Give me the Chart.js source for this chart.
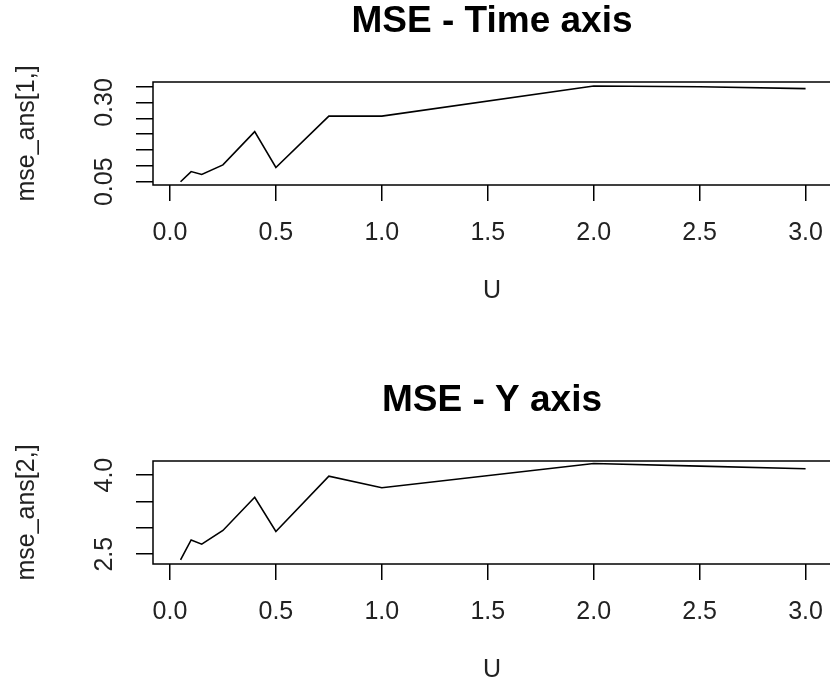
<!DOCTYPE html>
<html>
<head>
<meta charset="utf-8">
<script src="https://cdn.jsdelivr.net/npm/chart.js@4/dist/chart.umd.min.js"></script>
<style>
  html, body { margin: 0; padding: 0; background: #fff; }
  body { width: 830px; height: 682px; overflow: hidden; position: relative; }
  canvas { position: absolute; left: 0; }
  #c1 { top: 0; }
  #c2 { top: 379px; }
</style>
</head>
<body>
<canvas id="c1" width="860" height="306"></canvas>
<canvas id="c2" width="860" height="306"></canvas>
<script>
// values
const uValues = [0.05, 0.1, 0.15, 0.25, 0.4, 0.5, 0.75, 1.0, 2.0, 2.5, 3.0];
const mseTime = [0.050, 0.082, 0.073, 0.103, 0.208, 0.095, 0.257, 0.257, 0.352, 0.350, 0.344];
const mseY = [2.39, 2.77, 2.69, 2.95, 3.58, 2.93, 3.98, 3.76, 4.22, 4.17, 4.12];

const xTicks = [0, 0.5, 1, 1.5, 2, 2.5, 3];
const yTicksTime = [0.05, 0.10, 0.15, 0.20, 0.25, 0.30, 0.35];
const yLabelsTime = [0.05, 0.30];
const yTicksY = [2.5, 3.0, 3.5, 4.0];
const yLabelsY = [2.5, 4.0];

const FONT = "'Liberation Sans', Arial, sans-serif";

// R-style box around the plot region + rotated y tick labels
const rPlot = {
    id: 'rPlot',
    afterDraw(chart, args, opts) {
        const {ctx, chartArea: a} = chart;
        const y = chart.scales.y;
        ctx.save();
        ctx.strokeStyle = '#000';
        ctx.lineWidth = 1.5;
        ctx.strokeRect(a.left, a.top, a.right - a.left, a.bottom - a.top);
        ctx.fillStyle = '#222';
        ctx.font = '25px ' + FONT;
        ctx.textAlign = 'center';
        ctx.textBaseline = 'alphabetic';
        opts.labels.forEach(v => {
            ctx.save();
            ctx.translate(112, y.getPixelForValue(v));
            ctx.rotate(-Math.PI / 2);
            ctx.fillText(v.toFixed(opts.digits), 0, 0);
            ctx.restore();
        });
        ctx.restore();
    }
};

function makeChart(id, title, yTitle, values, yTicks, yLabels, digits, yMin, yMax) {
    const ctx = document.getElementById(id).getContext('2d');
    return new Chart(ctx, {
        type: 'line',
        data: {
            datasets: [{
                data: uValues.map((u, i) => ({x: u, y: values[i]})),
                borderColor: '#000',
                borderWidth: 1.6,
                pointRadius: 0,
                tension: 0,
                fill: false
            }]
        },
        options: {
            responsive: false,
            animation: false,
            devicePixelRatio: 1,
            layout: { padding: { top: 0, left: 0, right: 29, bottom: 0 } },
            plugins: {
                legend: { display: false },
                tooltip: { enabled: false },
                title: {
                    display: true,
                    text: title,
                    fullSize: false,
                    color: '#000',
                    font: { family: FONT, size: 37, weight: 'bold' },
                    padding: { top: 0, bottom: 37.6 }
                },
                rPlot: { labels: yLabels, digits: digits }
            },
            scales: {
                x: {
                    type: 'linear',
                    min: -0.08,
                    max: 3.12,
                    afterBuildTicks: s => { s.ticks = xTicks.map(v => ({value: v})); },
                    afterFit: s => { s.height = 121; },
                    border: { display: false },
                    grid: { drawOnChartArea: false, drawTicks: true, tickLength: 16, color: '#000', lineWidth: 1.5 },
                    ticks: {
                        color: '#222',
                        padding: 17,
                        maxRotation: 0,
                        autoSkip: false,
                        font: { family: FONT, size: 25 },
                        callback: v => v.toFixed(1)
                    },
                    title: {
                        display: true,
                        text: 'U',
                        color: '#222',
                        font: { family: FONT, size: 25 },
                        padding: { top: 0, bottom: 0 }
                    }
                },
                y: {
                    type: 'linear',
                    min: yMin,
                    max: yMax,
                    afterBuildTicks: s => { s.ticks = yTicks.map(v => ({value: v})); },
                    afterFit: s => { s.width = 153; },
                    border: { display: false },
                    grid: { drawOnChartArea: false, drawTicks: true, tickLength: 17, color: '#000', lineWidth: 1.5 },
                    ticks: { display: false },
                    title: {
                        display: true,
                        text: yTitle,
                        color: '#222',
                        font: { family: FONT, size: 25 },
                        padding: { top: 12, bottom: 0 }
                    }
                }
            }
        },
        plugins: [rPlot]
    });
}

makeChart('c1', 'MSE - Time axis', 'mse_ans[1,]', mseTime, yTicksTime, yLabelsTime, 2, 0.0396, 0.3648);
makeChart('c2', 'MSE - Y axis', 'mse_ans[2,]', mseY, yTicksY, yLabelsY, 1, 2.314, 4.268);
</script>
</body>
</html>
